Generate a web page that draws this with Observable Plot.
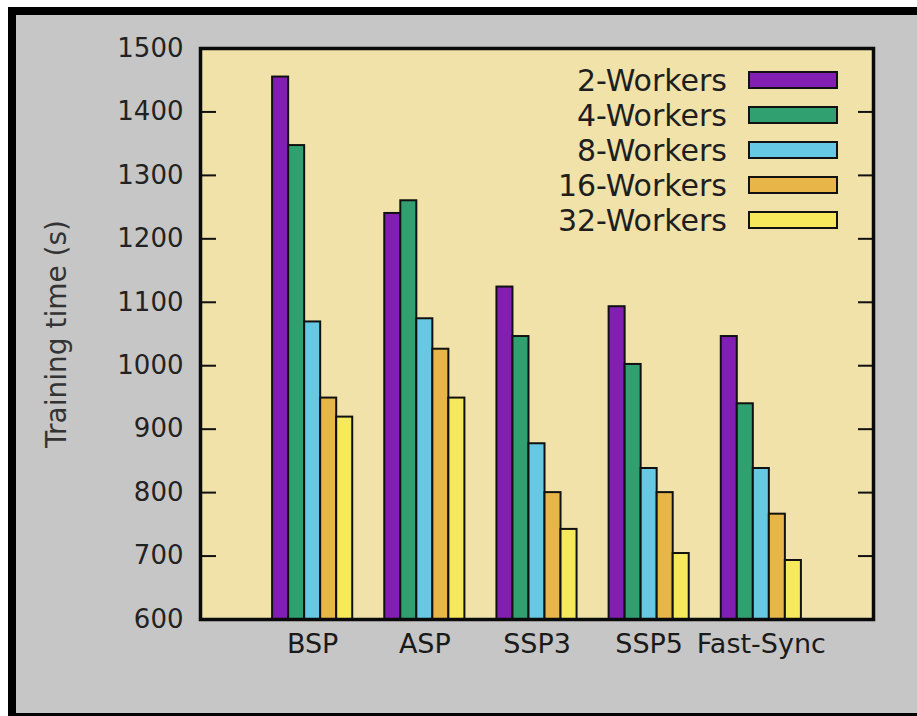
<!DOCTYPE html>
<html>
<head>
<meta charset="utf-8">
<script src="https://cdn.jsdelivr.net/npm/d3@7"></script>
<script src="https://cdn.jsdelivr.net/npm/@observablehq/plot@0.6"></script>
<style>
  html, body { margin: 0; padding: 0; background: #ffffff; }
  body { position: relative; width: 917px; height: 716px; overflow: hidden; }
  .panel {
    position: absolute; left: 8px; top: 7px;
    width: 901px; height: 698px;
    background: #c6c6c6;
    border: 8px solid #000000;
  }
  #chart { position: absolute; left: 0; top: 0; }
</style>
</head>
<body>
<div class="panel"></div>
<div id="chart"></div>
<script>
// Training time per synchronization scheme, grouped by cluster size
const categories = ["BSP", "ASP", "SSP3", "SSP5", "Fast-Sync"];
const seriesNames = ["2-Workers", "4-Workers", "8-Workers", "16-Workers", "32-Workers"];
const workers2  = [1455, 1240, 1124, 1093, 1046];
const workers4  = [1347, 1260, 1046, 1002, 940];
const workers8  = [1069, 1074, 877, 838, 838];
const workers16 = [949, 1026, 800, 800, 766];
const workers32 = [919, 949, 742, 704, 693];
const yTicks = [600, 700, 800, 900, 1000, 1100, 1200, 1300, 1400, 1500];
const yLabel = "Training time (s)";

const seriesValues = [workers2, workers4, workers8, workers16, workers32];
const seriesColors = ["#821fb2", "#31a070", "#66c8e2", "#e8b548", "#f6ea5c"];
const yDomain = [yTicks[0], yTicks[yTicks.length - 1]];

// Clustered histogram layout: cluster k sits at x = k + 1, each bar is
// 1 / (n + gap) wide with a gap of two bar widths between clusters.
const nSeries = seriesNames.length;
const barW = 1 / (nSeries + 2);
const rows = [];
categories.forEach((category, i) => {
  seriesNames.forEach((series, j) => {
    const center = i + 1;
    rows.push({
      category,
      series,
      value: seriesValues[j][i],
      x1: center + (j - nSeries / 2) * barW,
      x2: center + (j + 1 - nSeries / 2) * barW
    });
  });
});

const chart = Plot.plot({
  width: 917,
  height: 716,
  marginLeft: 200,
  marginRight: 44,
  marginTop: 48,
  marginBottom: 97,
  style: { background: "transparent", fontFamily: "'DejaVu Sans', sans-serif", color: "#1e1e1e" },
  x: { domain: [0, categories.length + 1], axis: null },
  y: { domain: yDomain, axis: null },
  color: { domain: seriesNames, range: seriesColors },
  marks: [
    Plot.frame({ fill: "#f0e2a9", stroke: null }),
    Plot.rect(rows, {
      x1: "x1", x2: "x2",
      y1: () => yDomain[0], y2: "value",
      fill: "series",
      stroke: "#111111",
      strokeWidth: 2
    }),
    // inward tick marks on both sides of the frame
    Plot.axisY({ anchor: "left", ticks: yTicks, tickSize: 16, dx: 16, fill: "none", label: null, stroke: "#111111", strokeWidth: 2 }),
    Plot.axisY({ anchor: "right", ticks: yTicks, tickSize: 16, dx: -16, fill: "none", label: null, stroke: "#111111", strokeWidth: 2 }),
    // tick labels
    Plot.axisY({
      anchor: "left",
      ticks: yTicks,
      tickFormat: (d) => String(d),
      tickSize: 0,
      tickPadding: 17,
      label: null,
      fontSize: 26,
      fill: "#222222"
    }),
    Plot.axisX({
      anchor: "bottom",
      ticks: categories.map((_, i) => i + 1),
      tickFormat: (d) => categories[d - 1],
      tickSize: 0,
      tickPadding: 14,
      label: null,
      fontSize: 27,
      fill: "#1a1a1a"
    }),
    Plot.text([yLabel], {
      text: (d) => d,
      frameAnchor: "left",
      rotate: -90,
      dx: -143,
      textAnchor: "middle",
      lineAnchor: "middle",
      fontSize: 28,
      fill: "#333333"
    }),
    Plot.frame({ stroke: "#0a0a0a", strokeWidth: 3.5 })
  ]
});

// Key in the upper-right corner of the plot area
const key = d3.select(chart).append("g")
  .attr("font-family", "'DejaVu Sans', sans-serif")
  .attr("font-size", 30);
const rowY = d3.scalePoint().domain(seriesNames).range([80, 220]);
const color = chart.scale("color");
seriesNames.forEach((name) => {
  const y = rowY(name);
  key.append("text")
    .attr("x", 727)
    .attr("y", y)
    .attr("dy", "0.35em")
    .attr("text-anchor", "end")
    .attr("fill", "#1e1e1e")
    .text(name);
  key.append("rect")
    .attr("x", 749)
    .attr("y", y - 8)
    .attr("width", 88)
    .attr("height", 16)
    .attr("fill", color.apply(name))
    .attr("stroke", "#111111")
    .attr("stroke-width", 2);
});

document.getElementById("chart").appendChild(chart);
</script>
</body>
</html>
